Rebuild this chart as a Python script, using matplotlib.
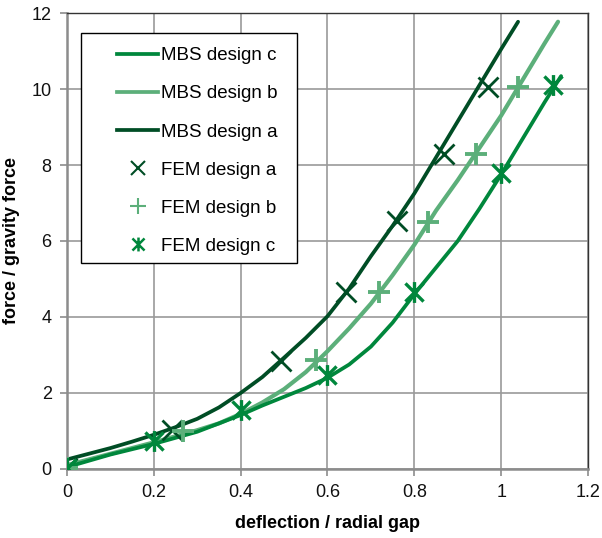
import matplotlib
matplotlib.use("Agg")
import matplotlib.pyplot as plt
from matplotlib.path import Path
from matplotlib.lines import Line2D
from matplotlib.patches import Rectangle

plt.rcParams['font.family'] = ['Liberation Sans', 'DejaVu Sans']

# MBS curves
mbs_a_x = [0, 0.05, 0.1, 0.15, 0.2, 0.25, 0.3, 0.35, 0.4, 0.45, 0.5, 0.55, 0.6, 0.65,
           0.7, 0.75, 0.8, 0.85, 0.9, 0.95, 1.0, 1.039]
mbs_a_y = [0.25, 0.4, 0.55, 0.72, 0.9, 1.1, 1.32, 1.62, 2.0, 2.42, 2.93, 3.45, 4.02, 4.75,
           5.6, 6.4, 7.25, 8.2, 9.15, 10.1, 11.05, 11.77]
mbs_b_x = [0, 0.1, 0.2, 0.3, 0.35, 0.4, 0.45, 0.5, 0.55, 0.6, 0.65, 0.7, 0.75, 0.8, 0.85,
           0.9, 0.95, 1.0, 1.05, 1.1, 1.131]
mbs_b_y = [0.1, 0.4, 0.7, 1.02, 1.2, 1.45, 1.75, 2.1, 2.55, 3.1, 3.7, 4.35, 5.1, 5.9, 6.8,
           7.6, 8.45, 9.3, 10.25, 11.2, 11.77]
mbs_c_x = [0, 0.1, 0.2, 0.3, 0.4, 0.45, 0.5, 0.55, 0.6, 0.65, 0.7, 0.75, 0.8, 0.85, 0.9,
           0.95, 1.0, 1.05, 1.1, 1.138]
mbs_c_y = [0.05, 0.38, 0.66, 0.98, 1.42, 1.67, 1.9, 2.13, 2.4, 2.75, 3.22, 3.85, 4.6, 5.3,
           6.0, 6.85, 7.75, 8.7, 9.65, 10.34]

# FEM points
fem_a_x = [0, 0.242, 0.492, 0.642, 0.76, 0.868, 0.97]
fem_a_y = [0.03, 1.03, 2.85, 4.67, 6.52, 8.28, 10.05]
fem_b_x = [0, 0.268, 0.573, 0.718, 0.831, 0.942, 1.039]
fem_b_y = [0.03, 1.0, 2.88, 4.67, 6.49, 8.28, 10.05]
fem_c_x = [0, 0.2, 0.4, 0.6, 0.8, 1.0, 1.12]
fem_c_y = [0.03, 0.74, 1.56, 2.48, 4.67, 7.8, 10.1]

labels = ["MBS design c", "MBS design b", "MBS design a",
          "FEM design a", "FEM design b", "FEM design c"]
xticks = [0, 0.2, 0.4, 0.6, 0.8, 1, 1.2]
xticklabels = ["0", "0.2", "0.4", "0.6", "0.8", "1", "1.2"]
yticks = [0, 2, 4, 6, 8, 10, 12]

c_dark = "#004d25"
c_mid = "#00873c"
c_light = "#5caf7a"

asterisk = Path([(-1, -1), (1, 1), (-1, 1), (1, -1), (0, -1.15), (0, 1.15)],
                [Path.MOVETO, Path.LINETO, Path.MOVETO, Path.LINETO, Path.MOVETO, Path.LINETO])

fig = plt.figure(figsize=(6.02, 5.38), dpi=100)
ax = fig.add_axes([0.1113, 0.1283, 0.8654, 0.8475])

lw = 2.7
ax.plot(mbs_c_x, mbs_c_y, color=c_mid, lw=lw, zorder=3, solid_capstyle='round', solid_joinstyle='round')
ax.plot(mbs_b_x, mbs_b_y, color=c_light, lw=lw + 0.3, zorder=2, solid_capstyle='round', solid_joinstyle='round')
ax.plot(mbs_a_x, mbs_a_y, color=c_dark, lw=lw, zorder=3, solid_capstyle='round', solid_joinstyle='round')

ax.plot(fem_a_x, fem_a_y, ls='none', marker='x', color=c_dark, ms=15, mew=2.0, zorder=4)
ax.plot(fem_b_x, fem_b_y, ls='none', marker='+', color=c_light, ms=16, mew=2.8, zorder=4)
ax.plot(fem_c_x, fem_c_y, ls='none', marker=asterisk, color=c_mid, ms=15, mew=2.4, zorder=4)

ax.set_xlim(0, 1.2)
ax.set_ylim(0, 12)
ax.set_xticks(xticks)
ax.set_xticklabels(xticklabels)
ax.set_yticks(yticks)
ax.grid(True, color="#9a9a9a", lw=1.2, zorder=0)
ax.set_axisbelow(True)

for s in ['left', 'bottom']:
    ax.spines[s].set_color("#8c8c8c")
    ax.spines[s].set_linewidth(1.8)
for s in ['top', 'right']:
    ax.spines[s].set_color("#333333")
    ax.spines[s].set_linewidth(1.0)

ax.tick_params(axis='both', direction='out', length=5, width=1.2, color="#8c8c8c",
               labelsize=13, labelcolor="#111111", pad=6)

ax.set_xlabel("deflection / radial gap", fontsize=13, fontweight='bold', labelpad=10)
ax.set_ylabel("force / gravity force", fontsize=13, fontweight='bold', labelpad=8)

# legend box
rect = Rectangle((0.0269, 0.452), 0.4146, 0.504, transform=ax.transAxes,
                 facecolor='white', edgecolor='black', lw=1.0, zorder=6)
ax.add_patch(rect)

handles = [
    Line2D([], [], color=c_mid, lw=lw),
    Line2D([], [], color=c_light, lw=lw),
    Line2D([], [], color=c_dark, lw=lw),
    Line2D([], [], ls='none', marker='x', color=c_dark, ms=10, mew=1.5),
    Line2D([], [], ls='none', marker='+', color=c_light, ms=12, mew=1.5),
    Line2D([], [], ls='none', marker=asterisk, color=c_mid, ms=10, mew=1.8),
]
leg = ax.legend(handles, labels, loc='upper left', bbox_to_anchor=(0.096, 0.925),
                frameon=False, fontsize=13.5, handlelength=2.2, handletextpad=0.15,
                labelspacing=1.12, borderpad=0, borderaxespad=0)
leg.set_zorder(7)

fig.savefig("out.png", dpi=100)
